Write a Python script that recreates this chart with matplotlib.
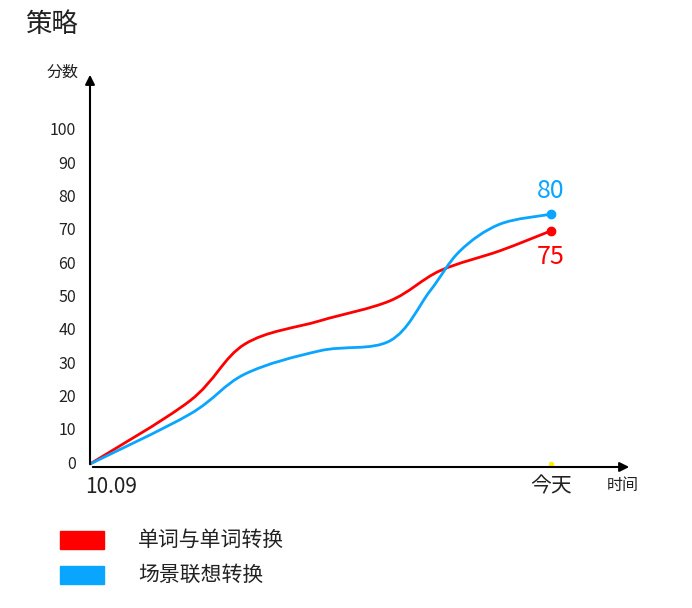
import matplotlib
matplotlib.use("Agg")
import matplotlib.pyplot as plt
from matplotlib import font_manager
from matplotlib.path import Path
from matplotlib.patches import PathPatch, Rectangle
import numpy as np

cands = [f.name for f in font_manager.fontManager.ttflist if 'CJK' in f.name]
plt.rcParams['font.family'] = ['Noto Sans CJK SC', 'Noto Sans CJK JP'] + cands + ['DejaVu Sans']

red_x = [0, 2.17, 3.36, 4.99, 6.51, 7.59, 8.89, 10]
red_y = [0, 19, 36, 43, 49, 58, 64, 70]
blue_x = [0, 2.17, 3.36, 4.99, 6.51, 7.38, 8.03, 8.89, 10]
blue_y = [0, 15, 27, 34, 37, 52, 64, 72, 75]
yticks = [0, 10, 20, 30, 40, 50, 60, 70, 80, 90, 100]
x_labels = ["10.09", "今天"]
end_labels = ["75", "80"]
legend_names = ["单词与单词转换", "场景联想转换"]
RED, BLUE = "#ff0000", "#0aa5ff"

W, H = 692, 608
fig = plt.figure(figsize=(W/100, H/100), dpi=100)
ax = fig.add_axes([90/W, 1-467/H, (632-90)/W, (467-72)/H])
ax.set_xlim(0, 11.76)
ax.set_ylim(-0.9, 117.7)
ax.axis('off')

def smooth(xs, ys, color):
    pts = np.column_stack([xs, ys])
    verts = [pts[0]]; codes = [Path.MOVETO]
    for i in range(len(pts)-1):
        p0 = pts[i-1] if i > 0 else pts[i]
        p1, p2 = pts[i], pts[i+1]
        p3 = pts[i+2] if i+2 < len(pts) else pts[i+1]
        c1 = p1 + (p2-p0)/6; c2 = p2 - (p3-p1)/6
        verts += [c1, c2, p2]; codes += [Path.CURVE4]*3
    ax.add_patch(PathPatch(Path(verts, codes), fill=False, ec=color, lw=2, clip_on=False))

smooth(red_x, red_y, RED)
smooth(blue_x, blue_y, BLUE)
ax.plot(red_x[-1], red_y[-1], 'o', color=RED, ms=6, clip_on=False)
ax.plot(blue_x[-1], blue_y[-1], 'o', color=BLUE, ms=6, clip_on=False)
ax.plot(10, 0, 'o', color="#ffee00", ms=3, clip_on=False)
ax.text(10, red_y[-1]-4, end_labels[0], color=RED, fontsize=18, ha='center', va='top')
ax.text(10, blue_y[-1]+3, end_labels[1], color=BLUE, fontsize=18, ha='center', va='bottom')

ax.annotate("", xy=(11.76, -0.9), xytext=(0, -0.9), arrowprops=dict(arrowstyle='-|>', color='black', lw=1.5, mutation_scale=14), annotation_clip=False)
ax.annotate("", xy=(0, 117.7), xytext=(0, -0.9), arrowprops=dict(arrowstyle='-|>', color='black', lw=1.5, mutation_scale=14), annotation_clip=False)
for t in yticks:
    ax.text(-0.3, t, str(t), ha='right', va='center', fontsize=11.5, color='#222222')
ax.text(-0.1, -3.5, x_labels[0], ha='left', va='top', fontsize=15, color='#222222')
ax.text(10, -3.5, x_labels[1], ha='center', va='top', fontsize=15, color='#222222')
ax.text(11.55, -4, "时间", ha='center', va='top', fontsize=11.5, color='#222222')
ax.text(-0.25, 117.7, "分数", ha='right', va='center', fontsize=11.5, color='#222222')

fig.text(25/W, 1-24/H, "策略", fontsize=19, va='center', ha='left', color='#222222')
for i, (name, c) in enumerate(zip(legend_names, [RED, BLUE])):
    yc = 540 + i*35
    fig.patches.append(Rectangle((60/W, 1-(yc+9)/H), 44/W, 18/H, color=c, transform=fig.transFigure))
    fig.text(138/W, 1-yc/H, name, fontsize=15, va='center', ha='left', color='#222222')

fig.savefig("out.png", dpi=100)
